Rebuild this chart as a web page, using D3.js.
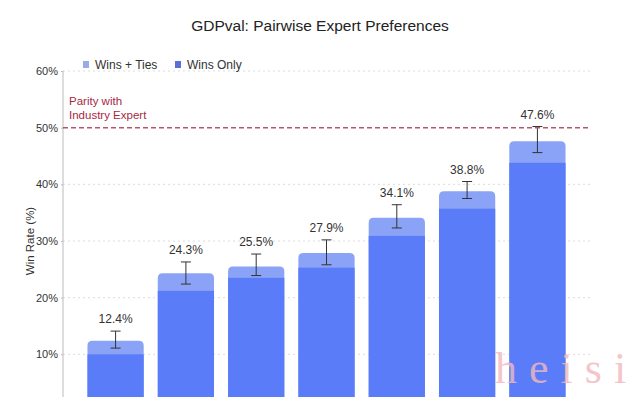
<!DOCTYPE html>
<html>
<head>
    <meta charset="utf-8">
    <title>GDPval</title>
    <style>
        body {
            margin: 0;
            background: #fff;
            font-family: "Liberation Sans", Arial, sans-serif;
        }
        svg {
            display: block;
        }
        .grid line {
            stroke: #dcdcdc;
            stroke-dasharray: 2,3;
        }
        .y.axis text {
            fill: #333;
            font-size: 11px;
        }
        .y.axis path, .y.axis line {
            stroke: #bbb;
        }
    </style>
    <script src="https://cdn.jsdelivr.net/npm/d3@7"></script>
</head>
<body>
<script>
    // values
    const models = ["m1", "m2", "m3", "m4", "m5", "m6", "m7"];
    const winsTies = [12.4, 24.3, 25.5, 27.9, 34.1, 38.8, 47.6];
    const winsOnly = [10.0, 21.2, 23.5, 25.3, 30.9, 35.7, 43.8];
    const errLow = [11.1, 22.4, 23.9, 25.8, 32.3, 37.5, 45.6];
    const errHigh = [14.1, 26.3, 27.7, 30.2, 36.4, 40.5, 50.2];
    const yTicks = [10, 20, 30, 40, 50, 60];
    const parity = 50;

    const width = 640,
        height = 397;

    const lightBlue = "#8aa3f6",
        darkBlue = "#5b7cf8";

    const svg = d3.select("body").append("svg")
        .attr("width", width)
        .attr("height", height);

    const x = d3.scaleBand()
        .domain(models)
        .range([63, 590])
        .paddingInner(0.2)
        .paddingOuter(0.348);

    const y = d3.scaleLinear()
        .domain([0, 60])
        .range([411, 71]);

    // grid
    svg.append("g")
        .attr("class", "grid")
        .selectAll("line")
        .data(yTicks.filter(d => d !== parity))
        .enter().append("line")
        .attr("x1", 63)
        .attr("x2", 590)
        .attr("y1", d => y(d))
        .attr("y2", d => y(d));

    // y axis
    svg.append("g")
        .attr("class", "y axis")
        .attr("transform", "translate(63,0)")
        .call(d3.axisLeft(y).tickValues(yTicks).tickSize(2).tickPadding(3).tickFormat(d => d + "%"))
        .call(g => g.select(".domain").attr("d", "M0," + y(60) + "V" + height));

    svg.append("text")
        .attr("transform", "translate(34," + y(30) + ") rotate(-90)")
        .attr("text-anchor", "middle")
        .attr("font-size", "11.5px")
        .attr("fill", "#333")
        .text("Win Rate (%)");

    // title
    svg.append("text")
        .attr("x", 320)
        .attr("y", 31)
        .attr("text-anchor", "middle")
        .attr("font-size", "15.5px")
        .attr("fill", "#222")
        .text("GDPval: Pairwise Expert Preferences");

    // legend
    const legend = [["Wins + Ties", "#9aabea", 83], ["Wins Only", "#5b6fd6", 175]];
    legend.forEach(l => {
        svg.append("rect")
            .attr("x", l[2])
            .attr("y", 61)
            .attr("width", 6)
            .attr("height", 7)
            .attr("fill", l[1]);
        svg.append("text")
            .attr("x", l[2] + 12)
            .attr("y", 68.5)
            .attr("font-size", "12px")
            .attr("fill", "#333")
            .text(l[0]);
    });

    // bars
    const rad = 5;
    function topRounded(x0, y0, w, h) {
        return "M" + x0 + "," + (y0 + h) +
            "V" + (y0 + rad) +
            "Q" + x0 + "," + y0 + " " + (x0 + rad) + "," + y0 +
            "H" + (x0 + w - rad) +
            "Q" + (x0 + w) + "," + y0 + " " + (x0 + w) + "," + (y0 + rad) +
            "V" + (y0 + h) + "Z";
    }

    const bars = svg.append("g")
        .selectAll("g")
        .data(models)
        .enter().append("g");

    bars.append("path")
        .attr("fill", lightBlue)
        .attr("d", (d, i) => topRounded(x(d), y(winsTies[i]), x.bandwidth(), y(0) - y(winsTies[i])));

    bars.append("rect")
        .attr("fill", darkBlue)
        .attr("x", d => x(d))
        .attr("y", (d, i) => y(winsOnly[i]))
        .attr("width", x.bandwidth())
        .attr("height", (d, i) => y(0) - y(winsOnly[i]));

    // error bars
    const cx = d => x(d) + x.bandwidth() / 2;
    bars.append("line")
        .attr("x1", cx).attr("x2", cx)
        .attr("y1", (d, i) => y(errLow[i]))
        .attr("y2", (d, i) => y(errHigh[i]))
        .attr("stroke", "#333")
        .attr("stroke-width", 1);
    [errLow, errHigh].forEach(arr => {
        bars.append("line")
            .attr("x1", d => cx(d) - 5).attr("x2", d => cx(d) + 5)
            .attr("y1", (d, i) => y(arr[i]))
            .attr("y2", (d, i) => y(arr[i]))
            .attr("stroke", "#333")
            .attr("stroke-width", 1);
    });

    bars.append("text")
        .attr("x", cx)
        .attr("y", (d, i) => y(errHigh[i]) - 8)
        .attr("text-anchor", "middle")
        .attr("font-size", "12px")
        .attr("fill", "#333")
        .text((d, i) => winsTies[i].toFixed(1) + "%");

    // parity line
    svg.append("line")
        .attr("x1", 63)
        .attr("x2", 590)
        .attr("y1", y(parity))
        .attr("y2", y(parity))
        .attr("stroke", "#b5566a")
        .attr("stroke-width", 1.5)
        .attr("stroke-dasharray", "5,3");

    svg.append("text")
        .attr("x", 69)
        .attr("y", 105)
        .attr("font-size", "11.5px")
        .attr("fill", "#a8283f")
        .selectAll("tspan")
        .data(["Parity with", "Industry Expert"])
        .enter().append("tspan")
        .attr("x", 69)
        .attr("dy", (d, i) => i ? 13.5 : 0)
        .text(d => d);

    // watermark
    svg.append("text")
        .attr("x", 495)
        .attr("y", 383)
        .attr("font-family", "Liberation Serif, serif")
        .attr("font-size", "44px")
        .attr("letter-spacing", "12px")
        .attr("fill", "#f2b8bd")
        .attr("opacity", 0.8)
        .text("heisi");
</script>
</body>
</html>
